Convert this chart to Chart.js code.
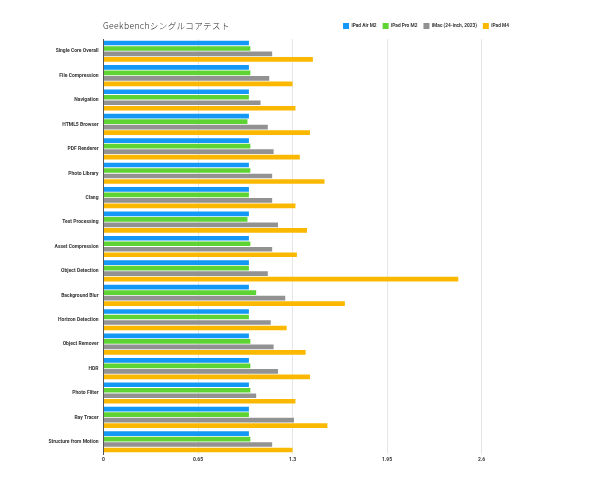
<!DOCTYPE html>
<html>
<head>
<meta charset="utf-8">
<script src="https://cdn.jsdelivr.net/npm/chart.js@4"></script>
<style>
  html, body { margin: 0; padding: 0; background: #fff; }
  #wrap { position: relative; width: 590px; height: 482px; }
  #title {
    position: absolute; left: 103px; top: 21px;
    font-family: 'Noto Sans CJK JP', sans-serif; font-weight: 300;
    font-size: 8.5px; line-height: 1; letter-spacing: 0.4px; color: #222; white-space: nowrap;
  }
</style>
</head>
<body>
<div id="wrap">
  <div id="title">Geekbenchシングルコアテスト</div>
  <canvas id="chart" width="590" height="482"></canvas>
</div>
<script>
const categories = ['Single Core Overall', 'File Compression', 'Navigation', 'HTML5 Browser', 'PDF Renderer',
  'Photo Library', 'Clang', 'Text Processing', 'Asset Compression', 'Object Detection', 'Background Blur',
  'Horizon Detection', 'Object Remover', 'HDR', 'Photo Filter', 'Ray Tracer', 'Structure from Motion'];

const seriesNames = ['iPad Air M2', 'iPad Pro M2', 'iMac (24-inch, 2023)', 'iPad M4'];

const ipadAirM2 = [1, 1, 1, 1, 1, 1, 1, 1, 1, 1, 1, 1, 1, 1, 1, 1, 1];
const ipadProM2 = [1.01, 1.01, 1.0, 0.99, 1.01, 1.01, 1.0, 0.99, 1.01, 1.0, 1.05, 1.0, 1.01, 1.01, 1.01, 1.0, 1.01];
const imac24 = [1.16, 1.14, 1.08, 1.13, 1.17, 1.16, 1.16, 1.2, 1.16, 1.13, 1.25, 1.15, 1.17, 1.2, 1.05, 1.31, 1.16];
const ipadM4 = [1.44, 1.3, 1.32, 1.42, 1.35, 1.52, 1.32, 1.4, 1.33, 2.44, 1.66, 1.26, 1.39, 1.42, 1.32, 1.54, 1.3];

const xTicks = [0, 0.65, 1.3, 1.95, 2.6];

const colors = ['#1399f5', '#5ed334', '#929292', '#fbb800'];
const smallFont = "Roboto, sans-serif";

const ctx = document.getElementById('chart').getContext('2d');
new Chart(ctx, {
  type: 'bar',
  data: {
    labels: categories,
    datasets: [ipadAirM2, ipadProM2, imac24, ipadM4].map((d, i) => ({
      label: seriesNames[i],
      data: d,
      backgroundColor: colors[i],
      borderWidth: 0,
      categoryPercentage: 0.9,
      barPercentage: 0.85
    }))
  },
  options: {
    indexAxis: 'y',
    responsive: false,
    animation: false,
    layout: { padding: { left: 0, right: 75, top: 17, bottom: 16 } },
    plugins: {
      title: { display: false },
      tooltip: { enabled: false },
      legend: {
        position: 'top',
        align: 'end',
        labels: {
          boxWidth: 6,
          boxHeight: 6,
          padding: 6,
          color: '#333',
          font: { family: smallFont, size: 4.8, weight: 'bold' }
        }
      }
    },
    scales: {
      x: {
        min: 0,
        max: 2.83,
        afterBuildTicks: (scale) => { scale.ticks = xTicks.map(v => ({ value: v })); },
        ticks: {
          color: '#333',
          padding: 3,
          font: { family: smallFont, size: 5, weight: 'bold' },
          callback: (v) => String(v)
        },
        grid: { color: '#e6e6e6', drawTicks: false },
        border: { display: false }
      },
      y: {
        afterFit: (scale) => { scale.width = 103.5; },
        ticks: {
          color: '#333',
          padding: 5,
          font: { family: smallFont, size: 5, weight: 'bold' }
        },
        grid: { display: false, drawTicks: false },
        border: { color: '#555', width: 1 }
      }
    }
  }
});
</script>
</body>
</html>
